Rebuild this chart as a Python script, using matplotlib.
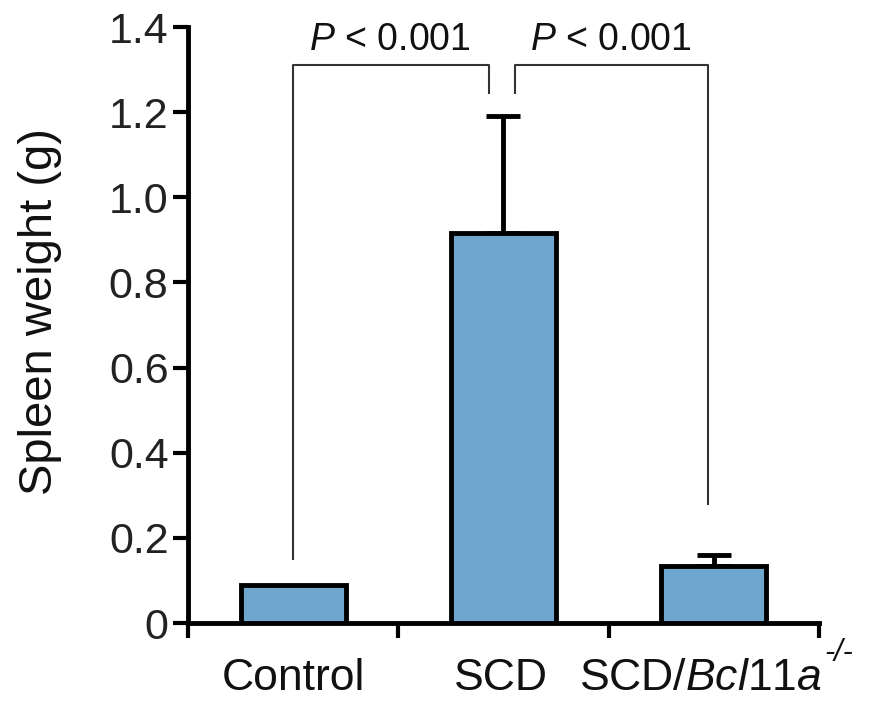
import matplotlib.pyplot as plt
import numpy as np

plt.rcParams['font.family'] = ['Liberation Sans', 'DejaVu Sans']
plt.rcParams['mathtext.fontset'] = 'custom'
plt.rcParams['mathtext.rm'] = 'Liberation Sans'
plt.rcParams['mathtext.it'] = 'Liberation Sans:italic'

# data
groups = ["Control", "SCD", "SCD/Bcl11a"]
weight = [0.09, 0.915, 0.135]
err = [0.0, 0.275, 0.025]
bar_col = "#6fa6cd"

fig = plt.figure(figsize=(8.69, 7.02), dpi=100)
ax = fig.add_axes([0.2163, 0.1125, 0.7262, 0.849])

x = np.arange(len(groups))
ax.bar(x, weight, width=0.5, color=bar_col, edgecolor="black", linewidth=3.5, zorder=3)
ax.errorbar(x[1:], weight[1:], yerr=[[0, 0], err[1:]], fmt="none", ecolor="black",
            elinewidth=3.5, capsize=12, capthick=3.5, zorder=2)

ax.set_xlim(-0.5, 2.5)
ax.set_ylim(0, 1.4)
ax.set_yticks([0, 0.2, 0.4, 0.6, 0.8, 1.0, 1.2, 1.4])
ax.set_yticklabels(["0", "0.2", "0.4", "0.6", "0.8", "1.0", "1.2", "1.4"])
ax.set_xticks([-0.5, 0.5, 1.5, 2.5])
ax.set_xticklabels([])
ax.tick_params(axis="both", direction="out", width=3, length=11, labelsize=31, colors="black")
ax.tick_params(axis="y", pad=3, labelcolor="#222222")

for s in ["top", "right"]:
    ax.spines[s].set_visible(False)
for s in ["left", "bottom"]:
    ax.spines[s].set_linewidth(3.5)

ax.set_ylabel("Spleen weight (g)", fontsize=34, color="#111111")
ax.yaxis.set_label_coords(-0.2, 0.522)

# group labels below axis
xt = ax.get_xaxis_transform()
ax.text(0.0, -0.113, "Control", ha="center", va="baseline", fontsize=32, color="#111111", transform=xt)
ax.text(0.99, -0.113, "SCD", ha="center", va="baseline", fontsize=32, color="#111111", transform=xt)
lab = ax.text(1.36, -0.113, r"SCD/$\mathit{Bcl11a}$", ha="left", va="baseline", fontsize=32,
              color="#111111", transform=xt)
fig.canvas.draw()
bb = lab.get_window_extent()
fig.text(bb.x1 / fig.dpi / fig.get_figwidth() + 0.003, bb.y1 / fig.dpi / fig.get_figheight() + 0.008,
         "-/-", style="italic", fontsize=22, ha="left", va="center", color="#111111")

# significance brackets
ax.plot([0.0, 0.0, 0.93, 0.93], [0.15, 1.31, 1.31, 1.245], color="#333333", lw=1.5, clip_on=False)
ax.plot([1.055, 1.055, 1.97, 1.97], [1.245, 1.31, 1.31, 0.28], color="#333333", lw=1.5, clip_on=False)
ax.text(0.46, 1.37, r"$\mathit{P}$ < 0.001", ha="center", va="center", fontsize=27, color="#111111")
ax.text(1.51, 1.37, r"$\mathit{P}$ < 0.001", ha="center", va="center", fontsize=27, color="#111111")

fig.savefig("out.png", dpi=100)
